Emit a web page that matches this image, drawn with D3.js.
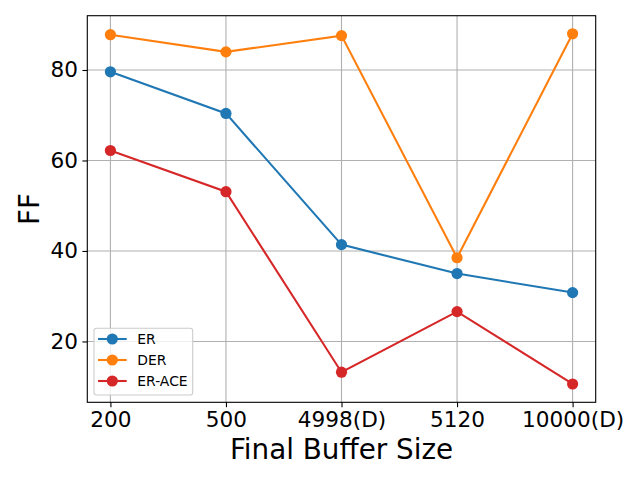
<!DOCTYPE html>
<html>
<head>
<meta charset="utf-8">
<script src="https://cdn.jsdelivr.net/npm/d3@7"></script>
<style>
  body { margin: 0; background: #fff; }
  svg { font-family: "DejaVu Sans", sans-serif; }
</style>
</head>
<body>
<svg id="chart" width="640" height="480"></svg>
<script>
// data
var sizes = ["200", "500", "4998(D)", "5120", "10000(D)"];
var erValues = [79.6, 70.4, 41.4, 35.0, 30.8];
var derValues = [87.8, 84.0, 87.6, 38.5, 88.0];
var eraceValues = [62.2, 53.1, 13.2, 26.6, 10.6];
var yTicks = [20, 40, 60, 80];

var series = [
  {name: "ER", values: erValues, color: "#1f77b4"},
  {name: "DER", values: derValues, color: "#ff7f0e"},
  {name: "ER-ACE", values: eraceValues, color: "#d62728"}
];

var svg = d3.select("#chart");
var plotLeft = 87.3, plotRight = 595.7, plotTop = 15.7, plotBottom = 402.3;

var x = d3.scalePoint().domain(sizes).range([plotLeft, plotRight]).padding(0.2);
var y = d3.scaleLinear().domain([6.55, 92.0]).range([plotBottom, plotTop]);

// grid
svg.append("g").selectAll("line")
  .data(sizes).enter().append("line")
  .attr("x1", function (d) { return x(d); })
  .attr("x2", function (d) { return x(d); })
  .attr("y1", plotTop).attr("y2", plotBottom)
  .attr("stroke", "#b0b0b0").attr("stroke-width", 1.1);

svg.append("g").selectAll("line")
  .data(yTicks).enter().append("line")
  .attr("x1", plotLeft).attr("x2", plotRight)
  .attr("y1", function (d) { return y(d); })
  .attr("y2", function (d) { return y(d); })
  .attr("stroke", "#b0b0b0").attr("stroke-width", 1.1);

// axes
var xAxis = svg.append("g")
  .attr("transform", "translate(0," + plotBottom + ")")
  .call(d3.axisBottom(x).tickSize(4.9).tickPadding(4));
var yAxis = svg.append("g")
  .attr("transform", "translate(" + plotLeft + ",0)")
  .call(d3.axisLeft(y).tickValues(yTicks).tickSize(4.9).tickPadding(4.5));

[xAxis, yAxis].forEach(function (a) {
  a.select(".domain").remove();
  a.selectAll("line").attr("stroke", "#000").attr("stroke-width", 1.1);
  a.selectAll("text").attr("font-size", "21.6px").attr("fill", "#000")
    .attr("font-family", "DejaVu Sans");
});

// frame
svg.append("rect")
  .attr("x", plotLeft).attr("y", plotTop)
  .attr("width", plotRight - plotLeft).attr("height", plotBottom - plotTop)
  .attr("fill", "none").attr("stroke", "#000").attr("stroke-width", 1.1);

// lines + markers
var line = d3.line()
  .x(function (d, i) { return x(sizes[i]); })
  .y(function (d) { return y(d); });

series.forEach(function (s) {
  svg.append("path")
    .attr("d", line(s.values))
    .attr("fill", "none")
    .attr("stroke", s.color)
    .attr("stroke-width", 2.1);
  svg.append("g").selectAll("circle")
    .data(s.values).enter().append("circle")
    .attr("cx", function (d, i) { return x(sizes[i]); })
    .attr("cy", function (d) { return y(d); })
    .attr("r", 5.6)
    .attr("fill", s.color);
});

// axis labels
svg.append("text")
  .attr("x", (plotLeft + plotRight) / 2).attr("y", 458.5)
  .attr("text-anchor", "middle")
  .attr("font-size", "27.8px")
  .text("Final Buffer Size");

svg.append("text")
  .attr("transform", "translate(39," + (plotTop + plotBottom) / 2 + ") rotate(-90)")
  .attr("text-anchor", "middle")
  .attr("font-size", "27.8px")
  .text("FF");

// legend
var legend = svg.append("g");
legend.append("rect")
  .attr("x", 94).attr("y", 328.3)
  .attr("width", 98.7).attr("height", 66.7)
  .attr("rx", 2.5)
  .attr("fill", "#fff").attr("fill-opacity", 0.8)
  .attr("stroke", "#cccccc").attr("stroke-width", 1.1);

var entries = legend.selectAll("g")
  .data(series).enter().append("g")
  .attr("transform", function (d, i) { return "translate(0," + (339 + i * 21) + ")"; });

entries.append("line")
  .attr("x1", 98).attr("x2", 126.7)
  .attr("stroke", function (d) { return d.color; })
  .attr("stroke-width", 2.1);
entries.append("circle")
  .attr("cx", 112.3).attr("r", 5.6)
  .attr("fill", function (d) { return d.color; });
entries.append("text")
  .attr("x", 137.3).attr("y", 5)
  .attr("font-size", "13.9px")
  .text(function (d) { return d.name; });
</script>
</body>
</html>
